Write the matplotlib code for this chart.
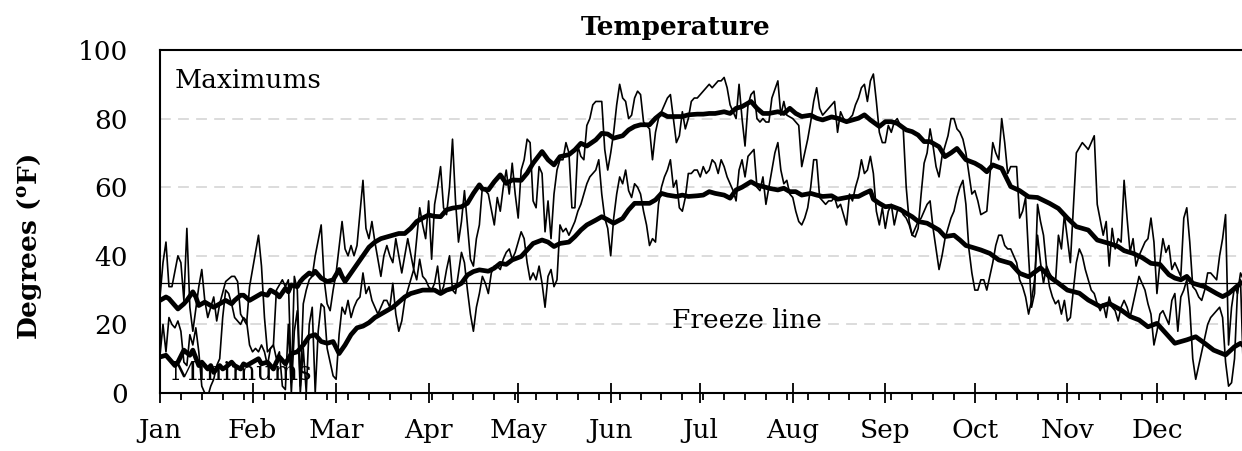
import matplotlib
matplotlib.use('Agg')
import matplotlib.pyplot as plt
from matplotlib.ticker import FixedLocator, NullFormatter
import numpy as np

plt.rcParams['font.family'] = ['DejaVu Serif']
plt.rcParams['mathtext.fontset'] = 'dejavuserif'

# day of year (0 = Jan 1), degrees F
daily_max = [
    (0, 28), (1, 38), (2, 44), (3, 31), (4, 31), (6, 40), (7, 38), (8, 27), (9, 48), (10, 25),
    (11, 18), (13, 31), (14, 36), (15, 27), (16, 22), (18, 28), (19, 21), (20, 26), (22, 32.5),
    (24, 34), (25, 34), (26, 32.5), (27, 23), (29, 20), (30, 31), (31, 36), (33, 46), (34, 37),
    (35, 22), (36, 12), (37, 13), (38, 14), (39, 30), (41, 33), (42, 31), (43, 33), (44, 3),
    (45, 34), (46, 30), (47, 2), (48, 26), (49, 30), (50, 33), (51, 34), (52, 40), (54, 49),
    (55, 33), (56, 26), (57, 24), (58, 30), (59, 35), (61, 50), (62, 42), (63, 40), (64, 43),
    (65, 40), (66, 43), (68, 62), (69, 48), (70, 45), (71, 50), (72, 44), (74, 34), (75, 40),
    (76, 43), (77, 40), (78, 38), (79, 45), (80, 40), (81, 35), (83, 45), (85, 36), (87, 54),
    (88, 49), (89, 45), (90, 56), (91, 39), (92, 55), (93, 60), (94, 66), (95, 54), (96, 52),
    (97, 60), (98, 74), (99, 56), (100, 44), (101, 50), (102, 59), (103, 49), (104, 39),
    (105, 37), (106, 45), (107, 49), (108, 60), (109, 59), (110, 58), (112, 49), (113, 57),
    (114, 53), (115, 60), (116, 65), (117, 58), (118, 67), (119, 58), (120, 51), (121, 65),
    (122, 68), (123, 74), (124, 73), (125, 56), (126, 54), (127, 66), (128, 64), (129, 47),
    (130, 56), (131, 45), (132, 58), (133, 65), (134, 68), (135, 68), (136, 73), (137, 70),
    (138, 54), (139, 54), (140, 72), (141, 69), (142, 68), (143, 78), (144, 80), (145, 84),
    (146, 85), (147, 85), (148, 85), (149, 71), (150, 65), (151, 70), (152, 76), (153, 84),
    (154, 90), (155, 86), (156, 85), (157, 80), (158, 81), (159, 86), (160, 88), (161, 87),
    (162, 79), (163, 78), (164, 77), (165, 68), (166, 76), (167, 80), (168, 82), (169, 84),
    (170, 86), (171, 87), (172, 80), (173, 73), (174, 75), (175, 82), (176, 77), (177, 80),
    (178, 85), (179, 86), (180, 86), (181, 87), (182, 88), (183, 89), (184, 90), (185, 89),
    (186, 90), (187, 91), (188, 91), (189, 92), (190, 89), (191, 84), (192, 82), (193, 80),
    (194, 90), (195, 80), (196, 72), (197, 84), (198, 87), (199, 88), (200, 80), (201, 79),
    (202, 80), (203, 79), (204, 79), (205, 86), (207, 91), (208, 81), (209, 85), (210, 81),
    (212, 80), (214, 78), (215, 66), (217, 74), (218, 79), (219, 85), (220, 89), (221, 83),
    (222, 81), (224, 83), (225, 84), (226, 85), (227, 76), (228, 82), (229, 80), (230, 79),
    (232, 81), (233, 84), (234, 86), (235, 89), (236, 90), (237, 85), (238, 91), (239, 93),
    (240, 85), (241, 76), (242, 73), (243, 73), (244, 78), (245, 76), (246, 79), (247, 80),
    (248, 78), (249, 77), (250, 60), (251, 50), (252, 46), (253, 45.5), (254, 48), (255, 58),
    (256, 67), (257, 70), (258, 77), (259, 72), (260, 66), (261, 63), (262, 69), (263, 72),
    (264, 75), (265, 80), (266, 80), (267, 77), (268, 76), (269, 74), (270, 70), (271, 64),
    (272, 58), (273, 59), (274, 56), (275, 52), (277, 53), (278, 63), (279, 73), (280, 70),
    (281, 68), (282, 80), (283, 73), (284, 64), (285, 66), (287, 66), (288, 51), (289, 53),
    (290, 57), (291, 40), (292, 25), (293, 29), (294, 55), (295, 50), (296, 46), (297, 37),
    (298, 35), (300, 32), (301, 46), (302, 42), (303, 52), (305, 38), (307, 70), (309, 73),
    (311, 71), (313, 75), (314, 55), (316, 46), (317, 50), (318, 37), (319, 48), (320, 42),
    (321, 45), (322, 44), (323, 62), (324, 51), (325, 41), (326, 45), (327, 37), (328, 40),
    (330, 44), (331, 45), (332, 51), (333, 44), (334, 29), (335, 38), (336, 45), (337, 41),
    (338, 43), (339, 36), (340, 38), (341, 36), (342, 34), (343, 51), (344, 54), (345, 44),
    (346, 31), (347, 30), (348, 28), (349, 27), (350, 30), (351, 35), (352, 35), (353, 34),
    (354, 33), (355, 40), (356, 45), (357, 52), (358, 14), (359, 25), (360, 31), (361, 29),
    (362, 35), (363, 33), (364, 30),
]

daily_min = [
    (0, 11), (1, 20), (2, 12), (3, 22), (4, 20), (5, 19), (6, 21), (7, 18), (8, 9), (9, 8),
    (10, 17), (11, 14), (12, 19), (13, 12), (14, 2), (15, 0), (16, -1), (17, 2), (18, 4),
    (19, 8), (20, 10), (21, 22), (22, 30), (23, 29), (24, 26), (25, 22), (26, 21), (27, 20),
    (28, 22), (29, 21), (30, 14), (31, 12), (32, 13), (33, 12), (34, 14), (35, 12), (36, 8),
    (37, 13), (38, 14), (39, 10), (40, 12), (41, 2), (42, 1), (43, 20), (44, 0), (45, 18),
    (46, 24), (47, 0), (48, 13), (49, 0), (50, 20), (51, 25), (52, 0), (53, 18), (54, 26),
    (55, 25), (56, 13), (57, 9), (58, 5), (59, 4), (60, 17), (61, 25), (62, 23), (63, 27),
    (64, 22), (65, 25), (66, 27), (67, 28), (68, 35), (69, 29), (70, 31), (71, 27), (72, 25),
    (73, 23), (74, 25), (75, 27), (76, 27), (77, 25), (78, 32), (79, 23), (80, 18), (81, 21),
    (82, 27), (83, 30), (84, 33), (85, 36), (86, 33), (87, 39), (88, 34), (89, 33), (90, 31),
    (91, 30), (92, 32), (93, 37), (94, 29), (95, 31), (96, 36), (97, 40), (98, 30), (99, 29),
    (100, 35), (101, 41), (102, 38), (103, 30), (104, 23), (105, 18), (106, 25), (107, 29),
    (108, 34), (109, 32), (110, 29), (111, 35), (112, 37), (113, 37), (114, 36), (115, 39),
    (116, 41), (117, 42), (118, 39), (119, 41), (120, 44), (121, 47), (122, 45), (123, 38),
    (124, 33), (125, 35), (126, 33), (127, 37), (128, 32), (129, 25), (130, 34), (131, 36),
    (132, 31), (133, 33), (134, 49), (135, 47), (136, 48), (137, 46), (138, 48), (139, 50),
    (140, 53), (141, 55), (142, 58), (143, 61), (144, 63), (145, 64), (146, 65), (147, 68),
    (148, 58), (149, 51), (150, 48), (151, 40), (152, 51), (153, 58), (154, 63), (155, 61),
    (156, 65), (157, 59), (158, 57), (159, 61), (160, 60), (161, 58), (162, 53), (163, 49),
    (164, 43), (165, 45), (166, 44), (167, 55), (168, 60), (169, 63), (170, 65), (171, 68),
    (172, 60), (173, 62), (174, 54), (175, 53), (176, 57), (177, 64), (178, 64), (179, 65),
    (180, 65), (181, 63), (182, 66), (183, 64), (184, 65), (185, 68), (186, 67), (187, 64),
    (188, 68), (189, 66), (190, 63), (191, 61), (192, 59), (193, 56), (194, 65), (195, 68),
    (196, 63), (197, 69), (198, 70), (199, 71), (200, 60), (201, 59), (202, 63), (203, 55),
    (204, 60), (205, 65), (206, 70), (207, 73), (208, 65), (209, 61), (210, 62), (211, 58),
    (212, 57), (213, 53), (214, 50), (215, 49), (216, 51), (217, 54), (218, 60), (219, 68),
    (220, 68), (221, 57), (222, 56), (223, 55), (224, 56), (225, 56), (226, 57), (227, 54),
    (228, 55), (229, 52), (230, 49), (231, 58), (232, 56), (233, 60), (234, 63), (235, 68),
    (236, 64), (237, 65), (238, 69), (239, 64), (240, 53), (241, 49), (242, 54), (243, 48),
    (244, 53), (245, 55), (246, 49), (247, 53), (248, 54), (249, 52), (250, 51), (251, 49),
    (252, 46), (253, 48), (254, 50), (255, 51), (256, 53), (257, 55), (258, 56), (259, 48),
    (260, 42), (261, 36), (262, 40), (263, 45), (264, 48), (265, 51), (266, 53), (267, 57),
    (268, 60), (269, 62), (270, 55), (271, 42), (272, 35), (273, 30), (274, 30), (275, 33),
    (276, 33), (277, 30), (278, 34), (279, 38), (280, 43), (281, 46), (282, 46), (283, 43),
    (284, 42), (285, 42), (286, 40), (287, 38), (288, 33), (289, 31), (290, 28), (291, 23),
    (292, 27), (293, 33), (294, 46), (295, 38), (296, 32), (297, 37), (298, 31), (299, 28),
    (300, 26), (301, 27), (302, 23), (303, 27), (304, 21), (305, 22), (306, 30), (307, 38),
    (308, 42), (309, 40), (310, 36), (311, 33), (312, 30), (313, 29), (314, 26), (315, 24),
    (316, 26), (317, 22), (318, 28), (319, 25), (320, 24), (321, 21), (322, 25), (323, 27),
    (324, 25), (325, 22), (326, 26), (327, 30), (328, 34), (329, 32), (330, 30), (331, 26),
    (332, 23), (333, 14), (334, 18), (335, 23), (336, 24), (337, 22), (338, 20), (339, 27),
    (340, 29), (341, 18), (342, 28), (343, 30), (344, 33), (345, 25), (346, 10), (347, 4),
    (348, 8), (349, 12), (350, 16), (351, 20), (352, 22), (353, 23), (354, 24), (355, 25),
    (356, 22), (357, 9), (358, 2), (359, 3), (360, 10), (361, 30), (362, 33), (363, 5),
    (364, 12),
]

normal_max = [
    (0, 27), (2, 28), (3, 27.5), (5, 25.5), (6, 24.5), (8, 26), (9, 27), (11, 29.5), (12, 28),
    (13, 25.5), (15, 26.5), (16, 26), (18, 25), (19, 25.5), (21, 26.5), (22, 27), (24, 26),
    (25, 27), (27, 28.5), (28, 28.5), (30, 27), (31, 27.5), (33, 28.5), (34, 29), (36, 28.5),
    (37, 30), (39, 29), (40, 28), (42, 30.5), (43, 29.5), (44, 31.5), (46, 31), (47, 32.5),
    (48, 33.5), (50, 35), (51, 34.5), (52, 35.5), (54, 33.5), (56, 32.5), (58, 33), (59, 34.5),
    (60, 36), (61, 34), (62, 32.5), (64, 35), (66, 37.5), (68, 40), (70, 42.5), (72, 44),
    (74, 45), (76, 45.5), (78, 46), (80, 46.5), (82, 46.5), (84, 48), (86, 50), (88, 51),
    (90, 51.9), (92, 51.5), (94, 51.4), (96, 53.4), (98, 53.9), (101, 54.3), (103, 55.3),
    (105, 58.2), (107, 60.7), (108, 59.5), (110, 59.2), (112, 61.6), (114, 63.6), (116, 61.1),
    (118, 62.1), (121, 62), (123, 64.1), (125, 67), (128, 70.4), (130, 68), (132, 66.5),
    (134, 68.9), (137, 69.5), (139, 70.9), (141, 72.8), (143, 72), (146, 73.8), (148, 75.7),
    (150, 75.5), (152, 74.3), (155, 75), (157, 76.7), (159, 77.7), (161, 78.2), (164, 78.2),
    (166, 80.1), (168, 81.5), (170, 80.6), (173, 80.6), (175, 80.6), (177, 81.1), (180, 81.3),
    (182, 81.3), (184, 81.5), (186, 81.5), (189, 82), (191, 81.5), (193, 83), (195, 83.5),
    (198, 85), (200, 83), (202, 81.5), (204, 81.5), (207, 82), (209, 81.5), (211, 83),
    (213, 81.5), (215, 80.6), (218, 81), (220, 80.1), (222, 79.6), (225, 80.5), (227, 80.1),
    (230, 79.1), (232, 79.6), (234, 80.1), (236, 81.1), (238, 79.6), (241, 77.7), (243, 79.1),
    (245, 79.1), (247, 78.6), (250, 76.7), (252, 76.2), (254, 75.2), (256, 73.3), (258, 73.3),
    (261, 71.8), (263, 68.9), (265, 70), (267, 71.3), (270, 68), (273, 67), (275, 66),
    (277, 64.5), (279, 66.5), (282, 65.5), (285, 60.2), (288, 59), (291, 57.2), (294, 57),
    (298, 55.3), (301, 53.8), (304, 51), (307, 48.5), (311, 47.5), (314, 44.6), (318, 43.6),
    (321, 42.7), (323, 41.5), (326, 40.7), (329, 39.5), (332, 37.8), (335, 37.5), (338, 34.5),
    (340, 33.5), (342, 33), (344, 34), (346, 32), (348, 31.5), (350, 31), (352, 30), (354, 29),
    (356, 28.1), (358, 29), (360, 30.5), (362, 32), (364, 32.5),
]

normal_min = [
    (0, 10.5), (2, 11), (3, 10), (5, 8), (6, 9), (8, 12.5), (10, 11), (11, 12.5), (13, 8),
    (14, 9), (16, 7), (17, 8), (18, 6), (20, 8), (21, 7), (22, 7.5), (24, 9), (25, 8), (27, 7),
    (28, 8.5), (29, 8), (31, 9), (33, 10), (34, 8.5), (36, 9), (38, 7), (39, 9), (40, 10.5),
    (42, 8.5), (44, 11.5), (46, 12), (48, 14), (50, 16.5), (52, 17), (54, 15), (56, 14.5),
    (58, 15), (60, 11.5), (62, 14), (64, 17), (66, 19), (68, 19.5), (70, 20.5), (72, 22),
    (74, 23), (76, 24), (78, 25), (80, 26.5), (82, 28), (84, 29), (86, 29.5), (88, 30),
    (90, 30), (92, 30), (94, 29), (96, 30), (98, 30.5), (101, 32), (103, 34.4), (105, 35.4),
    (107, 35.9), (110, 35.5), (112, 36.4), (114, 37.8), (116, 37.5), (118, 38.8), (121, 39.8),
    (123, 41.7), (125, 43.6), (128, 44.6), (130, 44), (132, 42.7), (134, 43.6), (137, 44),
    (139, 45.6), (141, 47.5), (143, 49), (146, 50.4), (148, 51.4), (150, 50.5), (152, 49.5),
    (155, 50.9), (157, 53.4), (159, 55.3), (161, 55.3), (164, 55.3), (166, 56.3), (168, 58.2),
    (170, 57.7), (173, 57.3), (175, 57.7), (177, 57.3), (180, 57.5), (182, 57.7), (184, 58.7),
    (186, 58.2), (189, 57.7), (191, 56.8), (193, 59.2), (195, 60), (198, 61.6), (200, 60.6),
    (202, 60.2), (204, 59.7), (207, 59.2), (209, 59.7), (211, 58.7), (213, 58.7), (215, 57.7),
    (218, 58.2), (220, 57.7), (222, 57.3), (225, 57.5), (227, 56.5), (230, 57), (232, 57.3),
    (234, 57.3), (236, 58.2), (238, 59), (239, 56.5), (241, 55.3), (243, 54.3), (245, 54.5),
    (248, 53.5), (250, 52.4), (252, 51.4), (254, 50), (257, 49.5), (259, 48.5), (261, 47.5),
    (263, 45.6), (266, 46), (268, 44.6), (270, 43), (272, 42.5), (275, 41.7), (278, 40.7),
    (281, 38.8), (285, 37.8), (288, 34.9), (291, 33.9), (295, 36.5), (298, 33.9), (301, 32),
    (304, 30), (308, 29.1), (311, 27.1), (315, 25.2), (318, 26.1), (322, 24.2), (325, 22.3),
    (328, 21.3), (331, 19.3), (334, 20.3), (337, 17.4), (340, 14.5), (344, 15.5), (347, 16.4),
    (350, 14.5), (353, 12.5), (357, 11.1), (360, 13.5), (362, 14.5), (364, 13),
]

month_starts = [0, 31, 59, 90, 120, 151, 181, 212, 243, 273, 304, 334]
month_labels = ['Jan', 'Feb', 'Mar', 'Apr', 'May', 'Jun',
                'Jul', 'Aug', 'Sep', 'Oct', 'Nov', 'Dec']
freeze = 32

fig = plt.figure(figsize=(12.42, 4.51), dpi=100)
ax = fig.add_axes([160/1242, 58/451, 1 - 160/1242, 343/451])

for yv in [20, 40, 60, 80]:
    ax.axhline(yv, color='#d9d9d9', lw=1.3, ls=(0, (6, 4)), zorder=0)
ax.axhline(freeze, color='k', lw=0.9, zorder=1)

for series in (daily_max, daily_min):
    d, v = np.array(series).T
    ax.plot(d, v, color='k', lw=1.2, zorder=2)
for series in (normal_max, normal_min):
    d, v = np.array(series).T
    ax.plot(d, v, color='k', lw=3.4, zorder=3, solid_joinstyle='round')

ax.set_xlim(0, 362.5)
ax.set_ylim(0, 100)
ax.set_yticks([0, 20, 40, 60, 80, 100])
ax.tick_params(axis='y', length=0, pad=23, labelsize=19)
ax.set_xticks(month_starts)
ax.set_xticklabels(month_labels)
ax.xaxis.set_minor_locator(FixedLocator(np.arange(0, 365, 7)))
ax.xaxis.set_minor_formatter(NullFormatter())
ax.tick_params(axis='x', which='major', direction='inout', length=14, width=1.3,
               pad=11, labelsize=19)
ax.tick_params(axis='x', which='minor', direction='out', length=5, width=1.3)

ax.spines['right'].set_visible(False)
for s in ('left', 'top', 'bottom'):
    ax.spines[s].set_linewidth(1.5)

ax.text(0.0139, 0.889, 'Maximums', transform=ax.transAxes, fontsize=19)
ax.text(0.010, 0.038, 'Minimums', transform=ax.transAxes, fontsize=19)
ax.text(0.473, 0.19, 'Freeze line', transform=ax.transAxes, fontsize=19)

fig.text(676/1242, 1 - 28/451, 'Temperature', ha='center', va='center',
         fontsize=19, fontweight='bold')
fig.text(30/1242, 1 - 247/451, r'Degrees ($^{\mathbf{o}}$F)', rotation=90,
         ha='center', va='center', fontsize=19, fontweight='bold')

fig.savefig('out.png', dpi=100)
